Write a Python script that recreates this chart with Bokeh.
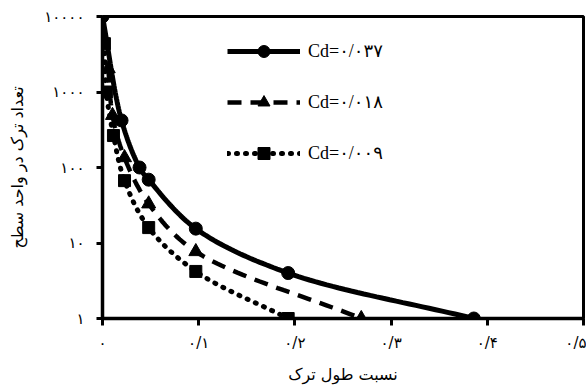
import numpy as np
from bokeh.plotting import figure
from bokeh.models import FixedTicker, Legend, LegendItem
from bokeh.embed import file_html
from bokeh.resources import INLINE

# crack length ratio (x) and crack count per unit area (y) for three Cd values
ratio_037 = [0.0, 0.0198, 0.0385, 0.048, 0.097, 0.193, 0.386]
count_037 = [10000, 420, 100, 69, 15.5, 4.0, 1.0]

ratio_018 = [0.006, 0.0104, 0.0229, 0.048, 0.097, 0.269]
count_018 = [2040, 490, 135, 33, 7.7, 1.0]

ratio_009 = [0.002, 0.004, 0.0114, 0.0229, 0.048, 0.097, 0.193]
count_009 = [4370, 1000, 265, 67, 16, 4.2, 1.0]

series_labels = ["Cd=۰/۰۳۷", "Cd=۰/۰۱۸", "Cd=۰/۰۰۹"]

x_ticks = [0.0, 0.1, 0.2, 0.3, 0.4, 0.5]
x_tick_labels = ["۰", "۰/۱", "۰/۲", "۰/۳", "۰/۴", "۰/۵"]
y_ticks = [1, 10, 100, 1000, 10000]
y_tick_labels = ["۱", "۱۰", "۱۰۰", "۱۰۰۰", "۱۰۰۰۰"]

x_title = "نسبت طول ترک"
y_title = "تعداد ترک در واحد سطح"

# pixels per x unit and per decade, used so the spline bends evenly on screen
X_SCALE = 962.0
Y_SCALE = 75.5


def spline_path(xs, ys, steps=30):
    """Centripetal Catmull-Rom curve through the measured points."""
    px = np.asarray(xs, float) * X_SCALE
    py = np.log10(np.asarray(ys, float)) * Y_SCALE
    P = np.column_stack([px, py])
    P = np.vstack([2 * P[0] - P[1], P, 2 * P[-1] - P[-2]])
    out = []
    for i in range(1, len(P) - 2):
        p0, p1, p2, p3 = P[i - 1], P[i], P[i + 1], P[i + 2]
        t0 = 0.0
        t1 = t0 + max(np.linalg.norm(p1 - p0), 1e-6) ** 0.5
        t2 = t1 + max(np.linalg.norm(p2 - p1), 1e-6) ** 0.5
        t3 = t2 + max(np.linalg.norm(p3 - p2), 1e-6) ** 0.5
        for t in np.linspace(t1, t2, steps, endpoint=False):
            a1 = (t1 - t) / (t1 - t0) * p0 + (t - t0) / (t1 - t0) * p1
            a2 = (t2 - t) / (t2 - t1) * p1 + (t - t1) / (t2 - t1) * p2
            a3 = (t3 - t) / (t3 - t2) * p2 + (t - t2) / (t3 - t2) * p3
            b1 = (t2 - t) / (t2 - t0) * a1 + (t - t0) / (t2 - t0) * a2
            b2 = (t3 - t) / (t3 - t1) * a2 + (t - t1) / (t3 - t1) * a3
            out.append((t2 - t) / (t2 - t1) * b1 + (t - t1) / (t2 - t1) * b2)
    out.append(P[-2])
    out = np.array(out)
    return out[:, 0] / X_SCALE, 10 ** (out[:, 1] / Y_SCALE)


p = figure(
    width=586, height=387,
    x_range=(0, 0.5), y_range=(1, 10000),
    y_axis_type="log",
    output_backend="svg", toolbar_location=None,
    min_border_left=102, min_border_right=3,
    min_border_top=16, min_border_bottom=69,
    background_fill_color="white", border_fill_color="white",
)
p.xgrid.visible = False
p.ygrid.visible = False
p.outline_line_color = "black"
p.outline_line_width = 3
p.outline_line_alpha = 1

latin_font = "'Liberation Serif', 'DejaVu Sans'"
arabic_font = "'DejaVu Sans'"

p.xaxis.ticker = FixedTicker(ticks=x_ticks, minor_ticks=[])
p.xaxis.major_label_overrides = dict(zip(x_ticks, x_tick_labels))
p.yaxis.ticker = FixedTicker(ticks=y_ticks, minor_ticks=[])
p.yaxis.major_label_overrides = dict(zip(y_ticks, y_tick_labels))

for ax in (p.xaxis, p.yaxis):
    ax.axis_line_width = 3.5
    ax.axis_line_color = "black"
    ax.major_tick_line_width = 3
    ax.major_tick_in = 0
    ax.minor_tick_line_color = None
    ax.major_label_text_font = arabic_font
    ax.major_label_text_font_size = "15px"
    ax.major_label_text_color = "black"
    ax.axis_label_text_font = arabic_font
    ax.axis_label_text_font_style = "normal"
    ax.axis_label_text_font_size = "16px"
    ax.axis_label_text_color = "black"

p.xaxis.major_tick_out = 7
p.xaxis.major_label_standoff = 8
p.xaxis.axis_label = x_title
p.xaxis.axis_label_standoff = 10
p.yaxis.major_tick_out = 6
p.yaxis.major_label_standoff = 12
p.yaxis.axis_label = y_title
p.yaxis.axis_label_standoff = 14

styles = [
    dict(xs=ratio_037, ys=count_037, marker="circle", size=13,
         line=dict(line_width=5)),
    dict(xs=ratio_018, ys=count_018, marker="triangle", size=14,
         line=dict(line_width=4.5, line_dash="14 9")),
    dict(xs=ratio_009, ys=count_009, marker="square", size=12,
         line=dict(line_width=5, line_dash="1 8", line_cap="round")),
]

items = []
for label, st in zip(series_labels, styles):
    cx, cy = spline_path(st["xs"], st["ys"])
    ln = p.line(cx, cy, line_color="black", **st["line"])
    pts = p.scatter(st["xs"], st["ys"], marker=st["marker"], size=st["size"],
                    fill_color="black", line_color="black")
    items.append(LegendItem(label=label, renderers=[ln, pts]))

legend = Legend(
    items=items, location=(125, 150),
    glyph_width=73, glyph_height=30, label_height=30, spacing=21,
    padding=0, margin=0, label_standoff=8,
    border_line_alpha=0, background_fill_alpha=0,
    label_text_font=latin_font, label_text_font_size="18px",
    label_text_color="black",
)
p.add_layout(legend)

open("out.html", "w").write(file_html(p, INLINE))
